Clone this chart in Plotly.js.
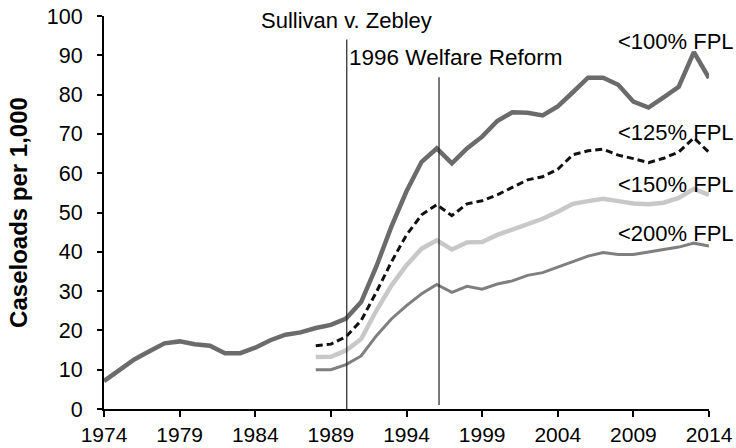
<!DOCTYPE html>
<html>
<head>
<meta charset="utf-8">
<script src="https://cdn.plot.ly/plotly-3.0.1.min.js"></script>
<style>html,body{margin:0;padding:0;background:#fff;}#chart{width:736px;height:448px;}</style>
</head>
<body>
<div id="chart"></div>
<script>
var yearsAll = [];
for (var y = 1974; y <= 2014; y++) yearsAll.push(y);
var yearsLate = [];
for (var y2 = 1988; y2 <= 2014; y2++) yearsLate.push(y2);

var fpl100 = [7.1, 9.9, 12.6, 14.7, 16.7, 17.2, 16.5, 16.1, 14.2, 14.2, 15.6, 17.5, 18.9, 19.5, 20.6, 21.4, 23.0, 27.2, 36.2, 46.4, 55.4, 62.9, 66.3, 62.5, 66.3, 69.3, 73.3, 75.5, 75.4, 74.7, 77.0, 80.6, 84.3, 84.3, 82.5, 78.2, 76.7, 79.3, 82.0, 90.8, 84.2];
var fpl125 = [16.1, 16.5, 18.4, 22.5, 29.7, 37.4, 44.3, 49.4, 52.0, 49.2, 52.2, 53.0, 54.5, 56.3, 58.3, 59.1, 61.0, 64.7, 65.7, 66.1, 64.6, 63.7, 62.7, 63.8, 65.4, 69.0, 65.3];
var fpl150 = [13.2, 13.3, 14.9, 17.8, 25.0, 31.4, 36.6, 40.8, 42.9, 40.6, 42.4, 42.5, 44.3, 45.6, 47.2, 48.4, 50.2, 52.2, 52.9, 53.5, 52.9, 52.3, 52.1, 52.5, 53.7, 56.0, 54.5];
var fpl200 = [10.0, 10.0, 11.3, 13.5, 18.6, 22.9, 26.3, 29.3, 31.7, 29.7, 31.2, 30.5, 31.8, 32.6, 34.0, 34.7, 36.1, 37.5, 38.9, 39.8, 39.3, 39.3, 39.9, 40.5, 41.2, 42.2, 41.5];

var seriesNames = ["<100% FPL", "<125% FPL", "<150% FPL", "<200% FPL"];
var xTickVals = [1974, 1979, 1984, 1989, 1994, 1999, 2004, 2009, 2014];
var eventYears = [1990.05, 1996.15];
var eventLabels = ["Sullivan v. Zebley", "1996 Welfare Reform"];
var yTitle = "Caseloads per 1,000";

var FONT = "Liberation Sans, Arial, Helvetica, sans-serif";

var traces = [
  {x: yearsLate, y: fpl200, mode: "lines", name: seriesNames[3], line: {color: "#7f7f7f", width: 3}},
  {x: yearsLate, y: fpl150, mode: "lines", name: seriesNames[2], line: {color: "#c8c8c8", width: 4.5}},
  {x: yearsLate, y: fpl125, mode: "lines", name: seriesNames[1], line: {color: "#111111", width: 3, dash: "7px,4px"}},
  {x: yearsAll, y: fpl100, mode: "lines", name: seriesNames[0], line: {color: "#6b6b6b", width: 4.5}}
];

var layout = {
  width: 736, height: 448,
  margin: {l: 104, r: 27, t: 16, b: 39},
  paper_bgcolor: "#ffffff", plot_bgcolor: "#ffffff",
  showlegend: false,
  font: {family: FONT, color: "#000", size: 21},
  xaxis: {
    range: [1974, 2014], tickvals: xTickVals, ticktext: xTickVals.map(String),
    ticks: "outside", ticklen: 6, tickwidth: 2, tickcolor: "#000",
    showline: true, linecolor: "#000", linewidth: 2,
    showgrid: false, zeroline: false,
    tickfont: {family: FONT, size: 21, color: "#000"}
  },
  yaxis: {
    range: [0, 100], dtick: 10,
    ticks: "outside", ticklen: 5, tickwidth: 2, tickcolor: "#000",
    ticklabelstandoff: 10,
    showline: true, linecolor: "#000", linewidth: 2,
    showgrid: false, zeroline: false,
    tickfont: {family: FONT, size: 21.5, color: "#000"},
    title: {text: yTitle, font: {family: FONT, size: 24, weight: "bold", color: "#000"}, standoff: 12}
  },
  shapes: [
    {type: "line", xref: "x", yref: "y", x0: eventYears[0], x1: eventYears[0], y0: 0, y1: 94, line: {color: "#222", width: 1.2}},
    {type: "line", xref: "x", yref: "y", x0: eventYears[1], x1: eventYears[1], y0: 1, y1: 84.4, line: {color: "#222", width: 1.2}}
  ],
  annotations: [
    {text: eventLabels[0], xref: "x", yref: "y", x: eventYears[0], y: 98.9, xanchor: "center", yanchor: "middle", showarrow: false, font: {family: FONT, size: 22, color: "#000"}},
    {text: eventLabels[1], xref: "x", yref: "y", x: eventYears[0], y: 89.4, xanchor: "left", yanchor: "middle", showarrow: false, font: {family: FONT, size: 22.5, color: "#000"}},
    {text: seriesNames[0], xref: "paper", yref: "y", x: 1.044, y: 93.5, xanchor: "right", yanchor: "middle", showarrow: false, font: {family: FONT, size: 22, color: "#000"}},
    {text: seriesNames[1], xref: "paper", yref: "y", x: 1.044, y: 70.4, xanchor: "right", yanchor: "middle", showarrow: false, font: {family: FONT, size: 22, color: "#000"}},
    {text: seriesNames[2], xref: "paper", yref: "y", x: 1.044, y: 57.1, xanchor: "right", yanchor: "middle", showarrow: false, font: {family: FONT, size: 22, color: "#000"}},
    {text: seriesNames[3], xref: "paper", yref: "y", x: 1.044, y: 44.7, xanchor: "right", yanchor: "middle", showarrow: false, font: {family: FONT, size: 22, color: "#000"}}
  ]
};

Plotly.newPlot("chart", traces, layout, {displayModeBar: false, staticPlot: true});
</script>
</body>
</html>
